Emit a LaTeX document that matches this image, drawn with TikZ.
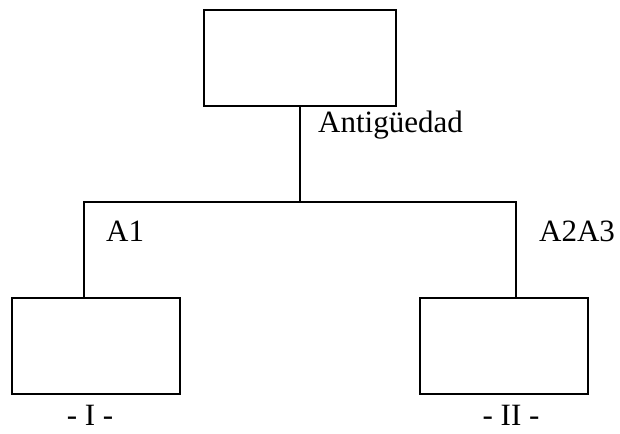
\documentclass[tikz,border=0pt]{standalone}
\usepackage{fontspec}
\setmainfont{Liberation Serif}
\begin{document}
\begin{tikzpicture}[x=1pt,y=-1pt,
  boxnode/.style={draw,line width=1.5pt,rectangle,inner sep=0pt,minimum height=96pt},
  conn/.style={line width=1.5pt},
  lbl/.style={inner sep=0pt,anchor=base west,font=\fontsize{31}{36}\selectfont},
  clbl/.style={inner sep=0pt,anchor=base,font=\fontsize{31}{36}\selectfont}]
\useasboundingbox (0,0) rectangle (620,433);
\node[boxnode,minimum width=192pt] (top) at (300,58) {};
\node[boxnode,minimum width=168pt] (b1) at (96,346) {};
\node[boxnode,minimum width=168pt] (b2) at (504,346) {};
\coordinate (j) at (300,202);
\coordinate (l) at (84,202);
\coordinate (r) at (516,202);
\draw[conn] (top.south) -- (j);
\draw[conn] (l |- b1.north) -- (l) -- (r) -- (r |- b2.north);
\node[lbl] (ant) at (318,132) {Antigüedad};
\node[lbl] (a1) at (106,241) {A1};
\node[lbl] (a23) at (539,241) {A2A3};
\node[clbl] (n1) at (90,425) {- I -};
\node[clbl] (n2) at (511,425) {- II -};
\end{tikzpicture}
\end{document}
